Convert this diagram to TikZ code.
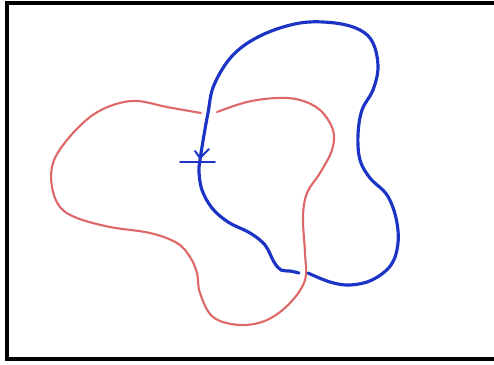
\documentclass[tikz,border=0pt]{standalone}
\usepackage{tikz}
\usepackage{xcolor}
\definecolor{loopred}{RGB}{222,104,104}
\definecolor{loopblue}{RGB}{28,52,198}

\begin{document}
\begin{tikzpicture}[x=0.02cm, y=-0.02cm,
	redloop/.style={loopred, line width=1.2pt, line cap=round},
	blueloop/.style={loopblue, line width=1.8pt, line cap=round},
	frameline/.style={black, line width=1.8pt}]
	\useasboundingbox (0,0) rectangle (494,365);
	\draw[frameline] (494,3) -- (7,3) -- (7,359) -- (494,359);
	\draw[redloop] plot[smooth, tension=0.6] coordinates {
		(217,112) (247,102) (277,98) (300,100) (320,110) (333,130) (332,150)
		(320,173) (307,193) (303,217) (305,253) (305,280) (290,303) (267,320)
		(240,325) (213,317) (200,293) (197,273) (190,257) (177,243) (150,233)
		(110,227) (77,218) (60,207) (52,187) (53,163) (67,140) (90,117)
		(113,105) (137,101) (167,107) (201,113)};
	\draw[blueloop] plot[smooth, tension=0.6] coordinates {
		(299,273) (290,271) (281,270) (274,262) (265,245) (250,233) (228,222)
		(212,208) (202,190) (199,172) (200,160) (204,135) (208,113) (214,85)
		(233,55) (262,35) (300,23) (335,23) (360,30) (373,43) (378,67)
		(373,90) (362,110) (358,135) (360,160) (370,178) (387,195) (396,218)
		(398,243) (391,265) (372,280) (350,285) (330,282) (308,273)};
	\coordinate (tip) at (200,158);
	\draw[loopblue, line width=1.1pt, line cap=round] (195,151) -- (tip) -- (209,149);
	\draw[loopblue, line width=1.1pt, line cap=round] (180,162) -- (215,162);
\end{tikzpicture}
\end{document}
